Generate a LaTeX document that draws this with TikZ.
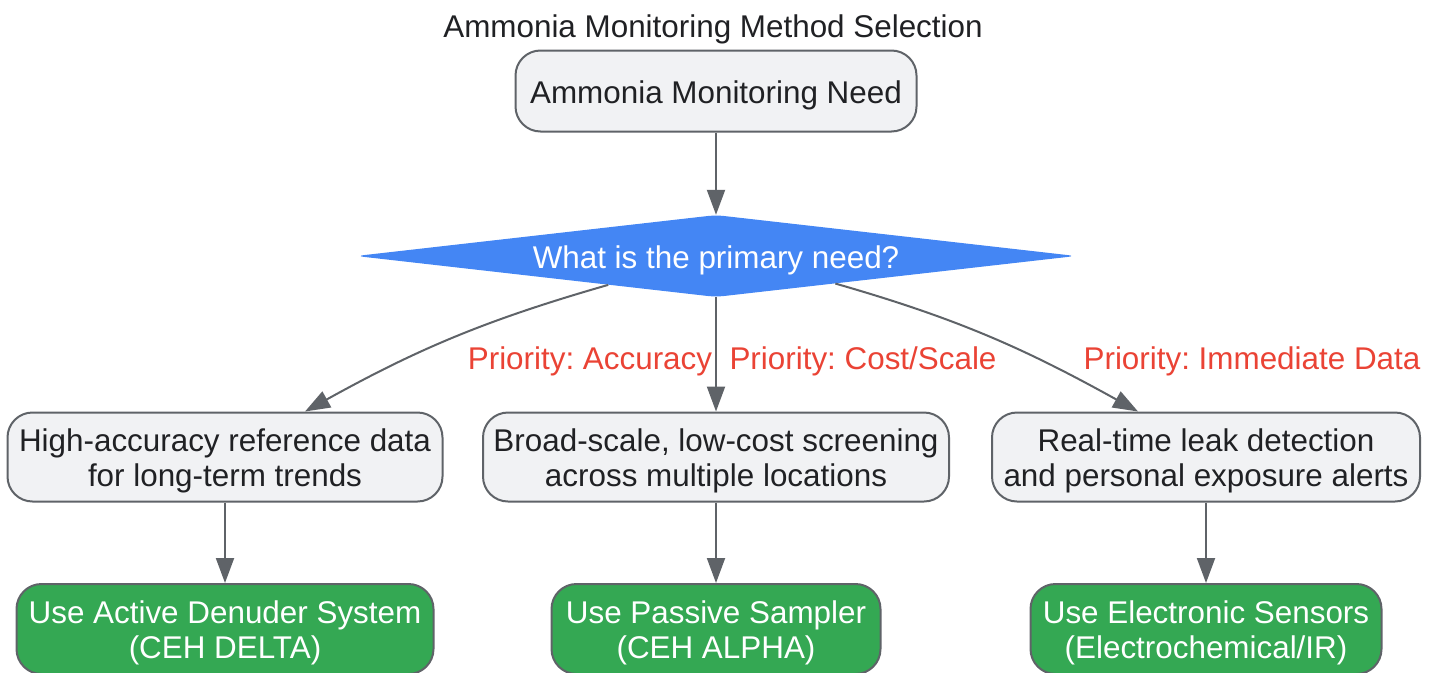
\documentclass[tikz,border=0pt]{standalone}
\usepackage{fontspec}
\setmainfont{Liberation Sans}
\usetikzlibrary{shapes.geometric,arrows.meta}
\definecolor{boxgray}{HTML}{F1F2F4}
\definecolor{linegray}{HTML}{5F6368}
\definecolor{textdark}{HTML}{202124}
\definecolor{diablue}{HTML}{4486F4}
\definecolor{usegreen}{HTML}{34A853}
\definecolor{prired}{HTML}{EA4335}
\begin{document}
\frenchspacing
\begin{tikzpicture}[x=1pt,y=-1pt,
  font=\fontsize{31.4}{35}\selectfont,
  every node/.style={execute at begin node={\rule{0pt}{31pt}},execute at end node={\rule[-7pt]{0pt}{7pt}}},
  needbox/.style={draw=linegray,line width=2pt,fill=boxgray,text=textdark,rounded corners=25pt,align=flush center,inner sep=0pt},
  usebox/.style={draw=linegray,line width=2pt,fill=usegreen,text=white,rounded corners=25pt,align=flush center,inner sep=0pt},
  prio/.style={text=prired,inner sep=0pt},
  edge/.style={draw=linegray,line width=2pt,-{Triangle[length=25pt,width=18pt]}}]
\useasboundingbox (0,0) rectangle (1439,672);

\node[text=textdark,inner sep=0pt](title) at (713,25) {Ammonia Monitoring Method Selection};
\node[needbox,minimum width=401pt,minimum height=81pt](need) at (716,91) {Ammonia Monitoring Need};
\node[diamond,aspect=8.77,fill=diablue,text=white,rounded corners=8pt,inner sep=0pt,minimum width=720pt,minimum height=82pt](q) at (716,256) {What is the primary need?};

\node[needbox,text width=435pt,minimum height=89pt](hi) at (225,457) {High-accuracy reference data\\for long-term trends};
\node[needbox,text width=466pt,minimum height=89pt](broad) at (716,457) {Broad-scale, low-cost screening\\across multiple locations};
\node[needbox,text width=428pt,minimum height=89pt](real) at (1206,457) {Real-time leak detection\\and personal exposure alerts};

\node[usebox,text width=417pt,minimum height=90pt](delta) at (225,629) {Use Active Denuder System\\(CEH DELTA)};
\node[usebox,text width=329pt,minimum height=90pt](alpha) at (716,629) {Use Passive Sampler\\(CEH ALPHA)};
\node[usebox,text width=351pt,minimum height=90pt](sens) at (1206,629) {Use Electronic Sensors\\(Electrochemical/IR)};

\draw[edge] (need) -- (q);
\draw[edge] (q.195) to[out=196,in=29] ([xshift=80pt]hi.north);
\draw[edge] (q) -- (broad);
\draw[edge] (q.-13) to[out=-16,in=151] ([xshift=-68pt]real.north);

\node[prio](pacc) at (590,357) {Priority: Accuracy};
\node[prio](pcost) at (863,357) {Priority: Cost/Scale};
\node[prio](pimm) at (1252,357) {Priority: Immediate Data};

\draw[edge] (hi) -- (delta);
\draw[edge] (broad) -- (alpha);
\draw[edge] (real) -- (sens);

\end{tikzpicture}
\end{document}
